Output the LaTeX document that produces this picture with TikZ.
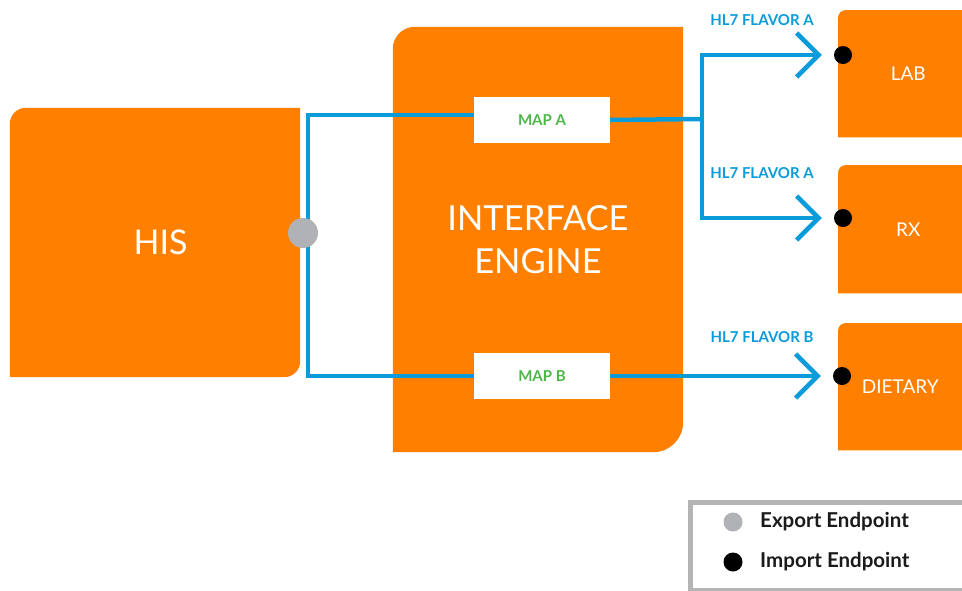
\documentclass[tikz,border=0pt]{standalone}
\usepackage{fontspec}
\setmainfont{Lato}
\usetikzlibrary{arrows.meta, positioning, backgrounds}
\definecolor{sysorange}{HTML}{FF8000}
\definecolor{flowblue}{HTML}{0A9BDA}
\definecolor{mapgreen}{HTML}{4DB848}
\definecolor{exportgrey}{HTML}{B1B2B6}
\definecolor{legendgrey}{HTML}{B4B4B4}
\definecolor{legendtext}{HTML}{1A1A1A}
\tikzset{
    sysbox/.style={rectangle, inner sep=0pt, text=white, align=center},
    mapbox/.style={rectangle, fill=white, minimum width=136pt, minimum height=46pt, text=mapgreen, font=\bfseries\fontsize{15}{17}\selectfont},
    flow/.style={draw=flowblue, line width=4.5pt},
    flowarrow/.style={flow, -{Straight Barb[length=22pt, width=44pt]}, shorten >=12pt},
    enddot/.style={circle, inner sep=0pt, minimum size=#1},
    flavor/.style={text=flowblue, font=\bfseries\fontsize{15}{17}\selectfont},
    keytext/.style={text=legendtext, font=\bfseries\fontsize{20.5}{24}\selectfont}
}
\begin{document}
\begin{tikzpicture}[x=1pt, y=-1pt]
    \useasboundingbox (0,0) rectangle (962,590);

    \node (his) [sysbox, minimum width=290pt, minimum height=269pt, font=\fontsize{34}{38}\selectfont] at (155,242.5) {\,\,HIS};
    \node (engine) [sysbox, minimum width=290pt, minimum height=425pt, font=\fontsize{34.5}{43}\selectfont] at (538,239.5) {INTERFACE\\ENGINE};
    \node (lab) [sysbox, minimum width=140pt, minimum height=127pt, anchor=north west, font=\fontsize{19}{22}\selectfont] at (838,10) {LAB};
    \node (rx) [sysbox, minimum width=140pt, minimum height=128pt, anchor=north west, font=\fontsize{19}{22}\selectfont] at (838,165) {RX};
    \node (dietary) [sysbox, minimum width=140pt, minimum height=127pt, anchor=north west, font=\fontsize{19}{22}\selectfont] at (830,323) {DIETARY};

    \node (mapa) [mapbox] at (542,120) {MAP A};
    \node (mapb) [mapbox] at (542,376) {MAP B};

    \node (export) [enddot=30pt, fill=exportgrey] at (303,233) {};
    \node (labin) [enddot=18pt, fill=black] at (843,55) {};
    \node (rxin) [enddot=18pt, fill=black] at (843,218) {};
    \node (dietin) [enddot=18pt, fill=black] at (842,376) {};
    \coordinate (split) at (702,119);

    \node (flavlab) [flavor] at (762,20) {HL7 FLAVOR A};
    \node (flavrx) [flavor] at (762,173) {HL7 FLAVOR A};
    \node (flavdiet) [flavor] at (762,337) {HL7 FLAVOR B};

    \begin{scope}[on background layer]
        \fill[sysorange] (his.south west) [rounded corners=16pt] -- (his.north west) [sharp corners] -- (his.north east) [rounded corners=16pt] -- (his.south east) [sharp corners] -- cycle;
        \fill[sysorange] (engine.south west) [rounded corners=22pt] -- (engine.north west) [sharp corners] -- (engine.north east) [rounded corners=30pt] -- (engine.south east) [sharp corners] -- cycle;
        \fill[sysorange] (lab.south west) [rounded corners=8pt] -- (lab.north west) [sharp corners] -- (lab.north east) -- (lab.south east) -- cycle;
        \fill[sysorange] (rx.south west) [rounded corners=8pt] -- (rx.north west) [sharp corners] -- (rx.north east) -- (rx.south east) -- cycle;
        \fill[sysorange] ([xshift=8pt]dietary.south west) [rounded corners=8pt] -- ([xshift=8pt]dietary.north west) [sharp corners] -- (dietary.north east) -- (dietary.south east) -- cycle;

        \draw[flow] ([yshift=5pt]mapa.west) -| ([xshift=5pt]export.center) |- (mapb.west);
        \draw[flow] (mapa.east) -- (split);
        \draw[flowarrow] (split) |- (labin);
        \draw[flowarrow] (split) |- (rxin);
        \draw[flowarrow] (mapb.east) -- (dietin);
    \end{scope}

    % legend
    \node (legend) [draw=legendgrey, line width=5pt, minimum width=300pt, minimum height=88pt, anchor=north west] at (687.5,499.5) {};
    \node (expkey) [enddot=19pt, fill=exportgrey] at (733,522) {};
    \node (impkey) [enddot=19pt, fill=black] at (733,562) {};
    \node (exptext) [keytext, right=14pt of expkey] {Export Endpoint};
    \node (imptext) [keytext, right=14pt of impkey] {Import Endpoint};
\end{tikzpicture}
\end{document}
